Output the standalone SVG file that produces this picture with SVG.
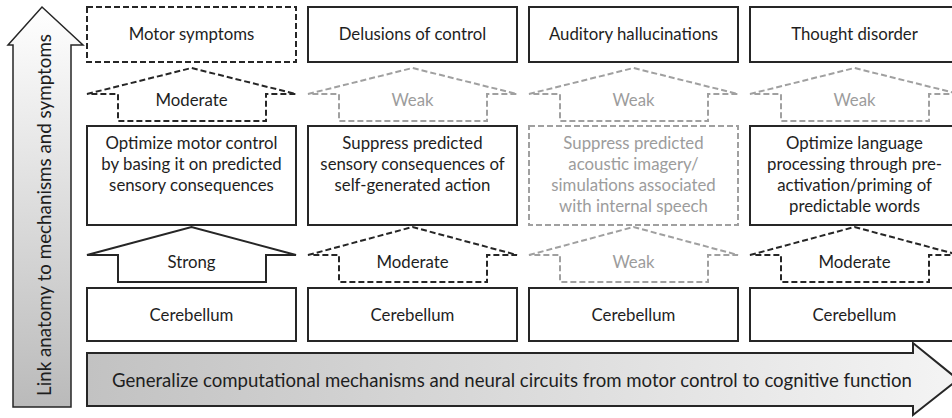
<svg xmlns="http://www.w3.org/2000/svg" width="952" height="418" viewBox="0 0 952 418">
  <style>
    text { font-family: Lato, "Open Sans", "Liberation Sans", sans-serif; font-size: 16.8px; fill: #1e1e1e; text-anchor: middle; }
    .g { fill: #9c9c9c; }
    .box { fill: #ffffff; stroke: #262626; stroke-width: 2; }
    .dbox { fill: #ffffff; stroke: #262626; stroke-width: 2; stroke-dasharray: 6 3; }
    .gbox { fill: #ffffff; stroke: #a0a0a0; stroke-width: 2; stroke-dasharray: 6 3; }
    .big { font-size: 18.6px; }
    .side { font-size: 18.8px; }
  </style>
  <defs>
    <linearGradient id="hgrad" x1="0" y1="0" x2="1" y2="0">
      <stop offset="0" stop-color="#c2c2c2"/>
      <stop offset="1" stop-color="#f4f4f4"/>
    </linearGradient>
    <linearGradient id="vgrad" x1="0" y1="1" x2="0" y2="0">
      <stop offset="0" stop-color="#bababa"/>
      <stop offset="1" stop-color="#ffffff"/>
    </linearGradient>
  </defs>

  <!-- Left vertical arrow -->
  <g id="axis-vertical">
    <polygon points="13,407 71,407 71,45 83,45 42,7 8,45 13,45" fill="url(#vgrad)" stroke="#262626" stroke-width="1.5"/>
    <text class="side" transform="translate(51,215) rotate(-90)">Link anatomy to mechanisms and symptoms</text>
  </g>

  <!-- Bottom horizontal arrow -->
  <g id="axis-horizontal">
    <polygon points="87,353 913,353 913,343 958,379.5 913,415 913,406 87,406" fill="url(#hgrad)" stroke="#262626" stroke-width="2"/>
    <text class="big" x="512" y="387">Generalize computational mechanisms and neural circuits from motor control to cognitive function</text>
  </g>

  <!-- Symptom boxes -->
  <g id="sym1"><rect class="dbox" x="87" y="7" width="209" height="55"/><text x="191.5" y="40">Motor symptoms</text></g>
  <g id="sym2"><rect class="box" x="308" y="7" width="209" height="55"/><text x="412.5" y="40">Delusions of control</text></g>
  <g id="sym3"><rect class="box" x="529" y="7" width="209" height="55"/><text x="633.5" y="40">Auditory hallucinations</text></g>
  <g id="sym4"><rect class="box" x="750" y="7" width="209" height="55"/><text x="854.5" y="40">Thought disorder</text></g>

  <!-- Connectors: strength arrows -->
  <g id="connectors">
    <g id="link-mech1-sym1">
      <polygon class="dbox" points="87,94 191.5,68 296,94 266,94 266,121 118,121 118,94"/>
      <text x="191.5" y="106">Moderate</text>
    </g>
    <g id="link-mech2-sym2">
      <polygon class="gbox" points="308,94 412.5,68 517,94 487,94 487,121 339,121 339,94"/>
      <text class="g" x="412.5" y="106">Weak</text>
    </g>
    <g id="link-mech3-sym3">
      <polygon class="gbox" points="529,94 633.5,68 738,94 708,94 708,121 560,121 560,94"/>
      <text class="g" x="633.5" y="106">Weak</text>
    </g>
    <g id="link-mech4-sym4">
      <polygon class="gbox" points="750,94 854.5,68 959,94 929,94 929,121 781,121 781,94"/>
      <text class="g" x="854.5" y="106">Weak</text>
    </g>
    <g id="link-cb1-mech1">
      <polygon class="box" points="87,255 191.5,227 296,255 266,255 266,282 118,282 118,255"/>
      <text x="191.5" y="268">Strong</text>
    </g>
    <g id="link-cb2-mech2">
      <polygon class="dbox" points="308,255 412.5,227 517,255 487,255 487,282 339,282 339,255"/>
      <text x="412.5" y="268">Moderate</text>
    </g>
    <g id="link-cb3-mech3">
      <polygon class="gbox" points="529,255 633.5,227 738,255 708,255 708,282 560,282 560,255"/>
      <text class="g" x="633.5" y="268">Weak</text>
    </g>
    <g id="link-cb4-mech4">
      <polygon class="dbox" points="750,255 854.5,227 959,255 929,255 929,282 781,282 781,255"/>
      <text x="854.5" y="268">Moderate</text>
    </g>
  </g>

  <!-- Mechanism boxes -->
  <g id="mech1">
    <rect class="box" x="87" y="126" width="209" height="99"/>
    <text x="191.5" y="149">Optimize motor control</text>
    <text x="191.5" y="170">by basing it on predicted</text>
    <text x="191.5" y="191">sensory consequences</text>
  </g>
  <g id="mech2">
    <rect class="box" x="308" y="126" width="209" height="99"/>
    <text x="412.5" y="149">Suppress predicted</text>
    <text x="412.5" y="170">sensory consequences of</text>
    <text x="412.5" y="191">self-generated action</text>
  </g>
  <g id="mech3">
    <rect class="gbox" x="529" y="126" width="209" height="99"/>
    <text class="g" x="633.5" y="149">Suppress predicted</text>
    <text class="g" x="633.5" y="170">acoustic imagery/</text>
    <text class="g" x="633.5" y="191">simulations associated</text>
    <text class="g" x="633.5" y="212">with internal speech</text>
  </g>
  <g id="mech4">
    <rect class="box" x="750" y="126" width="209" height="99"/>
    <text x="854.5" y="149">Optimize language</text>
    <text x="854.5" y="170">processing through pre-</text>
    <text x="854.5" y="191">activation/priming of</text>
    <text x="854.5" y="212">predictable words</text>
  </g>

  <!-- Cerebellum boxes -->
  <g id="cb1"><rect class="box" x="87" y="288" width="209" height="53"/><text x="191.5" y="321">Cerebellum</text></g>
  <g id="cb2"><rect class="box" x="308" y="288" width="209" height="53"/><text x="412.5" y="321">Cerebellum</text></g>
  <g id="cb3"><rect class="box" x="529" y="288" width="209" height="53"/><text x="633.5" y="321">Cerebellum</text></g>
  <g id="cb4"><rect class="box" x="750" y="288" width="209" height="53"/><text x="854.5" y="321">Cerebellum</text></g>
</svg>
